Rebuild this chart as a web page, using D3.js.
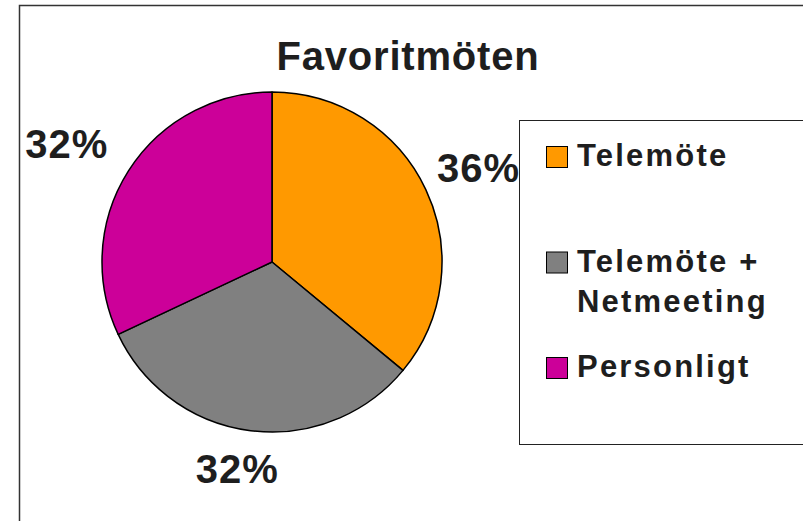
<!DOCTYPE html>
<html>
<head>
<meta charset="utf-8">
<script src="https://cdn.jsdelivr.net/npm/d3@7"></script>
<style>
  body { margin: 0; background: #fff; }
  text { font-family: "Liberation Sans", Arial, sans-serif; font-weight: bold; fill: #1e1e1e; }
</style>
</head>
<body>
<div id="chart-area"></div>
<script>
// data
const categories = ["Telemöte", "Telemöte + Netmeeting", "Personligt"]
const legendLines = [["Telemöte"], ["Telemöte +", "Netmeeting"], ["Personligt"]]
const shares = [36, 32, 32]
const colors = ["#FF9900", "#808080", "#CC0099"]
const title = "Favoritmöten"

function drawChart() {
    const svgWidth = 803
    const svgHeight = 521
    const legendX = 519
    const cx = 272, cy = 262

    const svg = d3.select("#chart-area")
      .append("svg")
      .attr("width", svgWidth)
      .attr("height", svgHeight)

    // outer frame (runs past the right and bottom edge)
    svg.append("rect")
      .attr("x", 19.5).attr("y", 5.5)
      .attr("width", svgWidth).attr("height", svgHeight)
      .attr("fill", "none")
      .attr("stroke", "#333")
      .attr("stroke-width", 1.5)

    svg.append("text")
      .attr("x", 408)
      .attr("y", 70)
      .attr("text-anchor", "middle")
      .style("font-size", "40px")
      .style("letter-spacing", "0.8px")
      .text(title)

    const data = categories.map((c, i) => ({ name: c, value: shares[i] }))

    const color = d3.scaleOrdinal().domain(categories).range(colors)

    const pie = d3.pie().sort(null).value(d => d.value)
    const radius = 170
    const arc = d3.arc().innerRadius(0).outerRadius(radius)
    const labelArc = d3.arc().innerRadius(194).outerRadius(194)

    const chart = svg.append("g")
      .attr("transform", `translate(${cx},${cy})`)

    chart.selectAll("path")
      .data(pie(data))
      .join("path")
      .attr("d", arc)
      .attr("fill", d => color(d.data.name))
      .attr("stroke", "#000")
      .attr("stroke-width", 1.5)
      .attr("stroke-linejoin", "round")

    // labels sit outside the pie, the box corner facing the slice touches the anchor point,
    // and they are kept left of the legend
    const fontSize = 40
    const capH = fontSize * 0.72
    const clamp = v => Math.max(0, Math.min(1, v))

    chart.selectAll("text.pct")
      .data(pie(data))
      .join("text")
      .attr("class", "pct")
      .style("font-size", fontSize + "px")
      .style("letter-spacing", "1px")
      .text(d => d.data.value + "%")
      .each(function(d) {
          const [px, py] = labelArc.centroid(d)
          const a = (d.startAngle + d.endAngle) / 2
          const dx = Math.sin(a), dy = -Math.cos(a)
          const w = this.getComputedTextLength()
          const fx = clamp(0.5 - dx), fy = clamp(0.5 - dy)
          const x = Math.min(px - fx * w, legendX - cx + 1 - w)
          d3.select(this)
            .attr("x", x)
            .attr("y", py - fy * capH + capH)
      })

    // legend
    svg.append("rect")
      .attr("x", legendX + 0.5).attr("y", 120.5)
      .attr("width", 300).attr("height", 324)
      .attr("fill", "none")
      .attr("stroke", "#222")
      .attr("stroke-width", 1)

    const yLegend = d3.scalePoint().domain(categories).range([166, 377])

    const items = svg.selectAll("g.legend")
      .data(categories)
      .join("g")
      .attr("class", "legend")
      .attr("transform", d => `translate(546,${yLegend(d)})`)

    items.append("rect")
      .attr("x", 0.5).attr("y", -19.5)
      .attr("width", 21).attr("height", 21)
      .attr("fill", d => color(d))
      .attr("stroke", "#000")
      .attr("stroke-width", 1)

    items.append("text")
      .attr("x", 31)
      .style("font-size", "31px")
      .style("letter-spacing", "2.2px")
      .selectAll("tspan")
      .data((d, i) => legendLines[i])
      .join("tspan")
      .attr("x", 31)
      .attr("dy", (d, i) => i === 0 ? 0 : 40)
      .text(d => d)
}

drawChart()
</script>
</body>
</html>
